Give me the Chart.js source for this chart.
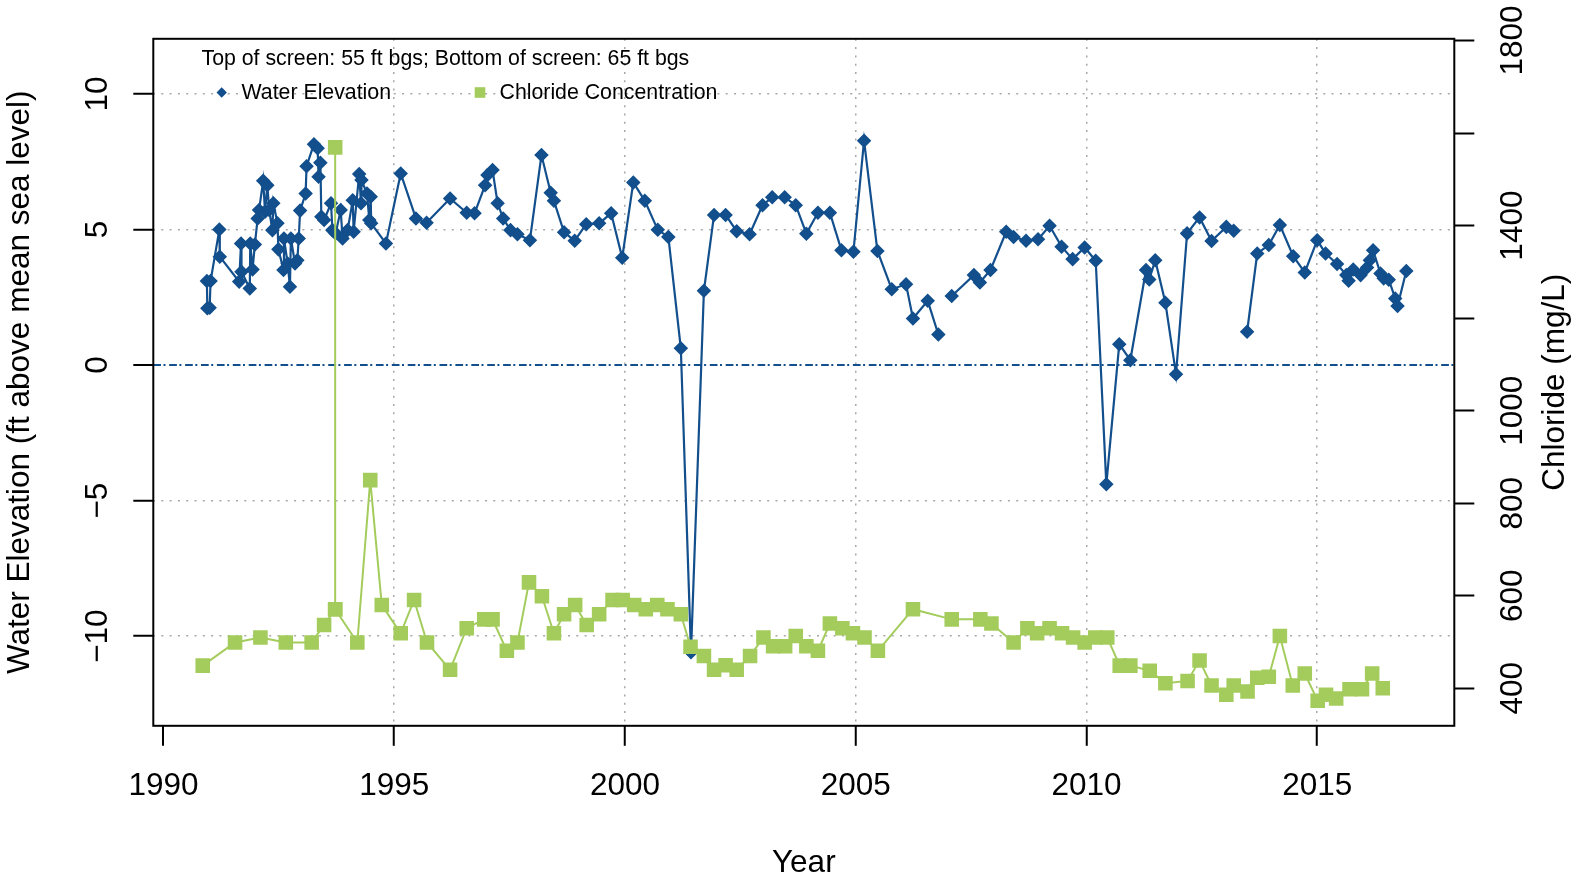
<!DOCTYPE html>
<html><head><meta charset="utf-8">
<script src="https://cdn.jsdelivr.net/npm/chart.js@4/dist/chart.umd.min.js"></script>
<style>html,body{margin:0;padding:0;background:#fff}#wrap{width:1585px;height:877px}</style>
</head><body><div id="wrap"><canvas id="c" width="1585" height="877"></canvas></div>
<script>
// ---- data ----
const waterYears = [1990.94,1990.95,1991.00,1991.02,1991.21,1991.22,1991.64,1991.68,1991.69,1991.87,1991.88,1991.93,1991.98,1992.04,1992.07,1992.16,1992.20,1992.25,1992.29,1992.36,1992.38,1992.47,1992.49,1992.60,1992.61,1992.69,1992.74,1992.76,1992.85,1992.90,1992.93,1992.96,1993.08,1993.10,1993.26,1993.34,1993.36,1993.40,1993.42,1993.48,1993.63,1993.66,1993.73,1993.84,1993.88,1993.99,1994.10,1994.12,1994.24,1994.28,1994.29,1994.41,1994.46,1994.49,1994.50,1994.82,1995.14,1995.47,1995.70,1996.21,1996.57,1996.74,1996.97,1997.02,1997.13,1997.24,1997.36,1997.52,1997.67,1997.94,1998.19,1998.39,1998.46,1998.68,1998.91,1999.16,1999.44,1999.70,1999.94,2000.18,2000.43,2000.71,2000.94,2001.21,2001.43,2001.71,2001.93,2002.18,2002.42,2002.70,2002.98,2003.19,2003.46,2003.70,2003.93,2004.18,2004.44,2004.69,2004.95,2005.18,2005.47,2005.78,2006.09,2006.24,2006.56,2006.79,2006.93,2007.08,2007.56,2007.69,2007.92,2008.26,2008.42,2008.69,2008.95,2009.20,2009.46,2009.70,2009.96,2010.20,2010.43,2010.71,2010.95,2011.29,2011.36,2011.49,2011.71,2011.94,2012.18,2012.45,2012.71,2013.03,2013.19,2013.33,2013.48,2013.70,2013.95,2014.19,2014.48,2014.73,2015.00,2015.18,2015.43,2015.63,2015.68,2015.78,2015.94,2016.08,2016.14,2016.21,2016.37,2016.44,2016.55,2016.69,2016.74,2016.93];
const waterLevels = [3.10,2.10,2.12,3.10,5.00,4.00,3.08,4.49,3.44,2.83,4.49,3.53,4.45,5.41,5.72,6.80,5.66,6.64,5.72,4.98,5.97,5.23,4.27,3.51,4.67,3.75,2.89,4.67,3.75,3.87,4.67,5.70,6.33,7.34,8.15,8.00,6.95,7.47,5.47,5.35,5.97,4.98,4.86,5.72,4.67,4.98,6.08,4.92,7.05,5.97,6.83,6.33,5.35,6.21,5.23,4.49,7.07,5.41,5.25,6.15,5.62,5.60,6.64,7.01,7.20,5.97,5.41,4.98,4.83,4.61,7.75,6.36,6.06,4.90,4.59,5.20,5.23,5.60,3.96,6.74,6.06,4.99,4.73,0.62,-10.6,2.74,5.54,5.54,4.94,4.83,5.90,6.19,6.19,5.90,4.85,5.62,5.62,4.24,4.18,8.28,4.21,2.80,2.98,1.72,2.37,1.13,null,2.55,3.32,3.05,3.51,4.92,4.73,4.59,4.64,5.14,4.37,3.91,4.34,3.85,-4.40,0.77,0.18,3.51,3.16,3.87,2.30,-0.34,4.86,5.45,4.58,5.10,4.96,null,1.23,4.12,4.43,5.17,4.02,3.42,4.61,4.12,3.73,3.32,3.11,3.53,3.32,3.60,3.87,4.24,3.38,3.20,3.15,2.46,2.18,3.47];
const chlorideYears = [1990.85,1991.55,1992.10,1992.65,1993.21,1993.48,1993.72,1993.72,1993.72,1994.20,1994.48,1994.73,1995.14,1995.43,1995.71,1996.21,1996.57,1996.95,1997.13,1997.44,1997.67,1997.92,1998.20,1998.46,1998.68,1998.92,1999.17,1999.44,1999.73,1999.95,2000.20,2000.45,2000.70,2000.92,2001.21,2001.42,2001.71,2001.93,2002.18,2002.42,2002.71,2003.00,2003.21,2003.47,2003.70,2003.93,2004.18,2004.44,2004.71,2004.94,2005.19,2005.48,2006.24,2007.08,2007.70,2007.94,2008.42,2008.72,2008.93,2009.20,2009.47,2009.71,2009.96,2010.19,2010.45,2010.72,2010.95,2011.37,2011.71,2012.19,2012.45,2012.71,2013.03,2013.19,2013.49,2013.70,2013.95,2014.19,2014.47,2014.73,2015.01,2015.19,2015.41,2015.70,2015.97,2016.19,2016.42];
const chlorideValues = [449,499,510,499,499,537,571,1569,571,499,850,580,519,591,499,440,530,549,549,481,499,629,599,519,560,580,537,560,591,591,580,571,580,571,560,490,470,440,450,440,470,510,491,491,513,491,481,540,530,519,510,481,571,549,549,540,499,530,519,530,519,510,499,510,510,449,449,438,411,416,460,406,386,406,393,423,425,513,406,432,373,386,378,398,398,432,400];
const xTickValues = [1990,1995,2000,2005,2010,2015];
const xGridValues = [1995,2000,2005,2010,2015];
const leftTickValues = [-10,-5,0,5,10];
const rightTickValues = [400,600,800,1000,1200,1400,1600,1800];
const rightTickLabels = ['400','600','800','1000','','1400','','1800'];
const zeroLineValue = 0;
const legendTitle = 'Top of screen: 55 ft bgs; Bottom of screen: 65 ft bgs';
const seriesNames = ['Water Elevation','Chloride Concentration'];

// ---- styles ----
const BLUE = '#124f8c', GREEN = '#a3cc5c', GRID = '#a8a8a8';
const FONT = '"Liberation Sans", Arial, Helvetica, sans-serif';
const AX = 31.5;

const waterData = waterYears.map((x,i)=>({x:x, y:waterLevels[i]}));
const chlorideData = chlorideYears.map((x,i)=>({x:x, y:chlorideValues[i]}));

const fmt = v => v < 0 ? '\u2212' + Math.abs(v) : String(v);

const boxPlugin = {
  id:'boxAndRefs',
  beforeDatasetsDraw(chart){
    const {ctx, chartArea:a, scales} = chart;
    const py = scales.y.getPixelForValue(zeroLineValue);
    ctx.save();
    ctx.strokeStyle = BLUE; ctx.lineWidth = 2;
    ctx.setLineDash([7.7,2.5,2,3.7]);
    ctx.beginPath(); ctx.moveTo(a.left, py); ctx.lineTo(a.right, py); ctx.stroke();
    ctx.restore();
  },
  afterDatasetsDraw(chart){
    const {ctx, chartArea:a} = chart;
    ctx.save();
    ctx.strokeStyle = '#000'; ctx.lineWidth = 2; ctx.setLineDash([]);
    ctx.strokeRect(a.left, a.top, a.right-a.left, a.bottom-a.top);
    // legend
    ctx.fillStyle = '#000';
    ctx.font = '21.3px ' + FONT;
    ctx.textBaseline = 'middle'; ctx.textAlign = 'left';
    ctx.fillText(legendTitle, 201.5, 59);
    ctx.fillStyle = BLUE;
    ctx.beginPath();
    const dx = 221.7, dy = 92.5, r = 5.2;
    ctx.moveTo(dx, dy-r); ctx.lineTo(dx+r, dy); ctx.lineTo(dx, dy+r); ctx.lineTo(dx-r, dy); ctx.closePath(); ctx.fill();
    ctx.fillStyle = GREEN;
    ctx.fillRect(480-5.3, 92.5-5.3, 10.6, 10.6);
    ctx.fillStyle = '#000';
    ctx.fillText(seriesNames[0], 241.5, 93.2);
    ctx.fillText(seriesNames[1], 499.5, 93.2);
    // right axis title
    ctx.save();
    ctx.font = AX + 'px ' + FONT;
    ctx.translate(1555, (a.top + a.bottom)/2);
    ctx.rotate(-Math.PI/2);
    ctx.textAlign = 'center'; ctx.textBaseline = 'middle';
    ctx.fillText('Chloride (mg/L)', 0, 0);
    ctx.restore();
    ctx.restore();
  }
};

new Chart(document.getElementById('c'), {
  type:'line',
  data:{
    datasets:[
      {label:seriesNames[1], data:chlorideData, yAxisID:'y2', order:0,
       borderColor:GREEN, borderWidth:2, backgroundColor:GREEN,
       pointStyle:'rect', pointRadius:10.3, pointBorderWidth:0, pointBackgroundColor:GREEN,
       tension:0, spanGaps:false},
      {label:seriesNames[0], data:waterData, yAxisID:'y', order:1,
       borderColor:BLUE, borderWidth:2.2, backgroundColor:BLUE,
       pointStyle:'rectRot', pointRadius:6.2, pointBorderWidth:1.5, pointBorderColor:BLUE, pointBackgroundColor:BLUE,
       tension:0, spanGaps:false}
    ]
  },
  options:{
    responsive:false, animation:false, devicePixelRatio:1,
    layout:{padding:{top:38.8,left:0,right:0,bottom:0}},
    plugins:{legend:{display:false}, tooltip:{enabled:false}, title:{display:false}},
    elements:{line:{fill:false}},
    scales:{
      x:{type:'linear', position:'bottom', min:1989.779, max:2017.97,
        afterBuildTicks:s=>{ s.ticks = xTickValues.map(v=>({value:v})); },
        afterFit:s=>{ s.height = 151.2; },
        grid:{color:GRID, lineWidth:c=>(c.tick && xGridValues.includes(c.tick.value)) ? 1.5 : 0,
              drawTicks:true, tickLength:20, tickWidth:2, tickColor:'#000'},
        border:{display:false, dash:[2,6.3]},
        ticks:{font:{family:FONT,size:AX}, color:'#000', padding:22, autoSkip:false, maxRotation:0, minRotation:0,
               callback:v=>String(v)},
        title:{display:true, text:'Year', color:'#000', font:{family:FONT,size:AX,lineHeight:0.82}, padding:{top:0,bottom:1}}
      },
      y:{type:'linear', position:'left', min:-13.31, max:12.04,
        afterBuildTicks:s=>{ s.ticks = leftTickValues.map(v=>({value:v})); },
        afterFit:s=>{ s.width = 153.3; },
        grid:{color:GRID, lineWidth:c=>(c.tick && c.tick.value!==zeroLineValue) ? 1.5 : 0,
              drawTicks:true, tickLength:20, tickWidth:2, tickColor:'#000'},
        border:{display:false, dash:[2,6.3]},
        ticks:{font:{family:FONT,size:AX}, color:'#000', padding:8, minRotation:90, maxRotation:90, crossAlign:'center',
               callback:v=>fmt(v)},
        title:{display:true, text:'Water Elevation (ft above mean sea level)', color:'#000',
               font:{family:FONT,size:AX,lineHeight:1.2}, padding:{top:1.5,bottom:0}}
      },
      y2:{type:'linear', position:'right', min:319.0, max:1803.7,
        afterBuildTicks:s=>{ s.ticks = rightTickValues.map(v=>({value:v})); },
        afterFit:s=>{ s.width = 130.7; },
        grid:{drawOnChartArea:false, drawTicks:true, tickLength:20, tickWidth:2, tickColor:'#000'},
        border:{display:false},
        ticks:{font:{family:FONT,size:AX}, color:'#000', padding:4, minRotation:90, maxRotation:90, crossAlign:'center',
               callback:(v,i)=>rightTickLabels[rightTickValues.indexOf(v)]}
      }
    }
  },
  plugins:[boxPlugin]
});
</script></body></html>
